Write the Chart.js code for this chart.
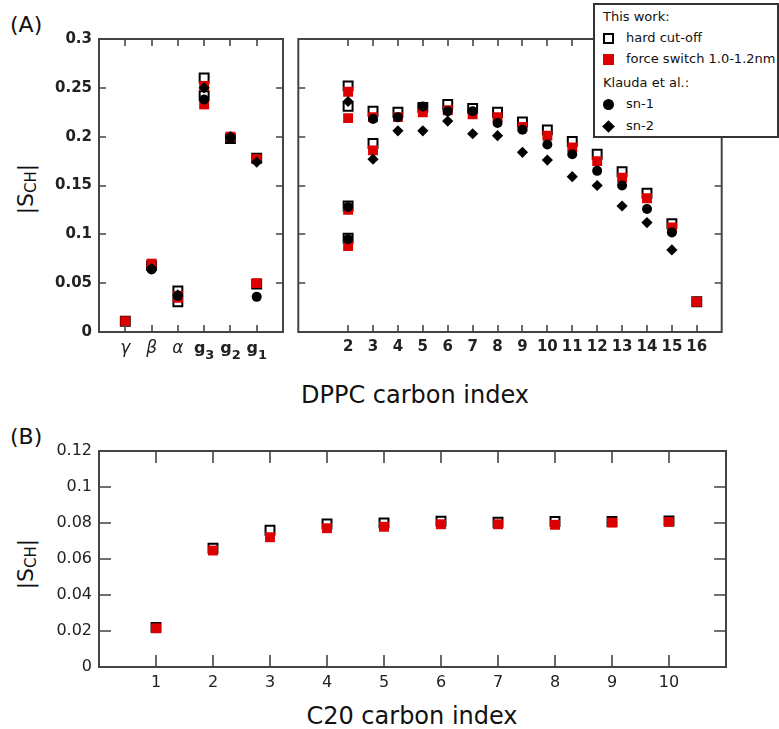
<!DOCTYPE html>
<html>
<head>
<meta charset="utf-8">
<script src="https://cdn.jsdelivr.net/npm/chart.js@4.4.1/dist/chart.umd.min.js"></script>
<style>
  html, body { margin: 0; padding: 0; background: #fff; }
  body { width: 779px; height: 729px; position: relative; overflow: hidden; font-family: 'DejaVu Sans', sans-serif; color: #111; }
  .box { position: absolute; }
  .txt { position: absolute; white-space: nowrap; line-height: 1; }
  .ylab { position: absolute; white-space: nowrap; line-height: 1; font-size: 22px; transform: translate(-50%, -50%) rotate(-90deg); }
  .ylab sub { font-size: 15px; vertical-align: -3px; }
  #legend { position: absolute; left: 593px; top: 3px; width: 186px; height: 135px; box-sizing: border-box;
            border: 2px solid #333; background: #fff; font-size: 13px; }
  #legend .row { position: absolute; height: 20px; line-height: 20px; white-space: nowrap; }
  #legend .mk { position: absolute; box-sizing: border-box; }
</style>
</head>
<body>
<div class="txt" style="left:10px;top:14px;font-size:22px">(A)</div>
<div class="txt" style="left:10px;top:426px;font-size:22px">(B)</div>
<div class="ylab" style="left:27px;top:189px">|S<sub>CH</sub>|</div>
<div class="ylab" style="left:27px;top:564px">|S<sub>CH</sub>|</div>
<div class="txt" style="left:415px;top:383px;font-size:24px;transform:translateX(-50%)">DPPC carbon index</div>
<div class="txt" style="left:412px;top:704px;font-size:24px;transform:translateX(-50%)">C20 carbon index</div>

<div class="box" style="left:0;top:0;width:295px;height:370px"><canvas id="headChart"></canvas></div>
<div class="box" style="left:290px;top:0;width:440px;height:370px"><canvas id="chainChart"></canvas></div>
<div class="box" style="left:0;top:400px;width:779px;height:310px"><canvas id="c20Chart"></canvas></div>
<div id="legend"></div>

<script>
// ---- data (A, head group) ----
const headLabels = ['γ', 'β', 'α', 'g₃', 'g₂', 'g₁'];
const headPositions = [1, 2, 3, 4, 5, 6];
const headHardCut = [[0.011], [0.068], [0.042, 0.031], [0.260, 0.242], [0.198], [0.178, 0.049]];
const headForceSwitch = [[0.011], [0.070], [0.037, 0.035], [0.252, 0.233], [0.200], [0.177, 0.050]];
const headSn1 = [[], [0.064], [0.037], [0.238], [0.199], [0.036]];
const headSn2 = [[], [0.065], [0.038], [0.250], [0.200], [0.174]];

// ---- data (A, acyl chain) ----
const chainCarbons = [2, 3, 4, 5, 6, 7, 8, 9, 10, 11, 12, 13, 14, 15, 16];
const chainHardCut = [[0.252, 0.231, 0.129, 0.096], [0.226, 0.193], [0.225], [0.230], [0.233], [0.229],
  [0.225], [0.215], [0.207], [0.195], [0.182], [0.164], [0.142], [0.111], [0.031]];
const chainForceSwitch = [[0.246, 0.219, 0.125, 0.088], [0.220, 0.186], [0.220], [0.225], [0.227], [0.223],
  [0.220], [0.210], [0.201], [0.189], [0.175], [0.158], [0.137], [0.107], [0.031]];
const chainSn1 = [[0.128, 0.095], [0.218], [0.220], [0.231], [0.226], [0.226],
  [0.214], [0.207], [0.192], [0.182], [0.165], [0.150], [0.126], [0.102], []];
const chainSn2 = [[0.236], [0.177], [0.206], [0.206], [0.216], [0.203],
  [0.201], [0.184], [0.176], [0.159], [0.150], [0.129], [0.112], [0.084], []];
const yTicksA = [0, 0.05, 0.1, 0.15, 0.2, 0.25, 0.3];

// ---- data (B, C20) ----
const c20Carbons = [1, 2, 3, 4, 5, 6, 7, 8, 9, 10];
const c20HardCut = [0.022, 0.066, 0.076, 0.0795, 0.080, 0.081, 0.0804, 0.0808, 0.0808, 0.0812];
const c20ForceSwitch = [0.0215, 0.0647, 0.0721, 0.0771, 0.0779, 0.0793, 0.0793, 0.079, 0.0802, 0.0806];
const yTicksB = [0, 0.02, 0.04, 0.06, 0.08, 0.1, 0.12];

const RED = '#dd0000';
const FONT = "'DejaVu Sans', sans-serif";
const BOLD_FONT = { family: FONT, size: 15, weight: 'bold' };

const seriesStyles = {
  hard:  { label: 'hard cut-off', pointStyle: 'rect', pointRadius: 6.3, backgroundColor: 'rgba(255,255,255,0)', borderColor: '#000', borderWidth: 2, order: 4 },
  force: { label: 'force switch 1.0-1.2nm', pointStyle: 'rect', pointRadius: 7, backgroundColor: RED, borderColor: RED, borderWidth: 0, order: 3 },
  sn1:   { label: 'sn-1', pointStyle: 'circle', pointRadius: 5, backgroundColor: '#000', borderColor: '#000', borderWidth: 0, order: 2 },
  sn2:   { label: 'sn-2', pointStyle: 'rectRot', pointRadius: 5.6, backgroundColor: '#000', borderColor: '#000', borderWidth: 0, order: 1 }
};

function buildPoints(positions, groups) {
  return groups.flatMap((vals, i) => [].concat(vals).map(v => ({ x: positions[i], y: v })));
}

function makeDatasets(positions, series) {
  return Object.keys(series).map(key => Object.assign({}, seriesStyles[key], {
    data: buildPoints(positions, series[key]),
    pointHoverRadius: seriesStyles[key].pointRadius
  }));
}

// box frame with inward ticks on all four sides
const framePlugin = {
  id: 'frame',
  afterDraw(chart, args, opts) {
    const { ctx, chartArea: a } = chart;
    const xs = chart.scales.x, ys = chart.scales.y;
    ctx.save();
    ctx.strokeStyle = '#444';
    ctx.lineWidth = 1.6;
    ctx.beginPath();
    opts.xTicks.forEach(v => {
      if (v <= xs.min || v >= xs.max) return;
      const px = Math.round(xs.getPixelForValue(v));
      ctx.moveTo(px, a.bottom); ctx.lineTo(px, a.bottom - opts.len);
      ctx.moveTo(px, a.top); ctx.lineTo(px, a.top + opts.len);
    });
    opts.yTicks.forEach(v => {
      if (v <= ys.min || v >= ys.max) return;
      const py = Math.round(ys.getPixelForValue(v));
      ctx.moveTo(a.left, py); ctx.lineTo(a.left + opts.len, py);
      ctx.moveTo(a.right, py); ctx.lineTo(a.right - opts.len, py);
    });
    ctx.stroke();
    ctx.lineWidth = 2;
    ctx.strokeRect(a.left, a.top, a.right - a.left, a.bottom - a.top);
    ctx.restore();
  }
};

// head-group category labels: italic greek, bold g with a large subscript
const SUB_DIGITS = { '₁': '1', '₂': '2', '₃': '3' };
const headLabelPlugin = {
  id: 'headLabels',
  afterDraw(chart) {
    const { ctx, chartArea: a } = chart;
    const xs = chart.scales.x;
    ctx.save();
    ctx.fillStyle = '#222';
    ctx.textBaseline = 'alphabetic';
    headLabels.forEach((lab, i) => {
      const px = xs.getPixelForValue(headPositions[i]);
      const base = lab[0];
      const sub = SUB_DIGITS[lab.slice(1)];
      const y = a.bottom + 21;
      if (!sub) {
        ctx.font = 'italic 17px ' + FONT;
        ctx.textAlign = 'center';
        ctx.fillText(base, px, y);
        return;
      }
      ctx.font = 'bold 16px ' + FONT;
      const wb = ctx.measureText(base).width;
      ctx.font = 'bold 13px ' + FONT;
      const ws = ctx.measureText(sub).width;
      const left = px - (wb + ws) / 2;
      ctx.textAlign = 'left';
      ctx.font = 'bold 16px ' + FONT;
      ctx.fillText(base, left, y);
      ctx.font = 'bold 13px ' + FONT;
      ctx.fillText(sub, left + wb, y + 6);
    });
    ctx.restore();
  }
};

function fmt(v) { return String(+v.toFixed(2)); }

function makeChart(id, cfg) {
  return new Chart(document.getElementById(id), {
    type: 'scatter',
    data: { datasets: cfg.datasets },
    plugins: [framePlugin].concat(cfg.extraPlugins || []),
    options: {
      responsive: true,
      maintainAspectRatio: false,
      animation: false,
      events: [],
      layout: { padding: cfg.padding },
      plugins: {
        legend: { display: false },
        tooltip: { enabled: false },
        frame: { len: cfg.tickLen, xTicks: cfg.xTicks, yTicks: cfg.yTicks }
      },
      scales: {
        x: {
          type: 'linear', min: cfg.xMin, max: cfg.xMax,
          grid: { display: false, drawTicks: false },
          border: { display: false },
          afterBuildTicks: s => { s.ticks = cfg.xTicks.map(v => ({ value: v })); },
          afterFit: s => { s.height = 30; },
          ticks: { autoSkip: false, maxRotation: 0, padding: cfg.xPad, color: '#222',
                   font: cfg.xFont, callback: cfg.xLabel }
        },
        y: {
          display: true, min: 0, max: cfg.yTicks[cfg.yTicks.length - 1],
          grid: { display: false, drawTicks: false },
          border: { display: false },
          afterBuildTicks: s => { s.ticks = cfg.yTicks.map(v => ({ value: v })); },
          afterFit: s => { s.width = cfg.yWidth; },
          ticks: { display: cfg.yWidth > 0, padding: 7, color: '#222', font: cfg.yFont, callback: fmt }
        }
      }
    }
  });
}

makeChart('headChart', {
  datasets: makeDatasets(headPositions, { hard: headHardCut, force: headForceSwitch, sn1: headSn1, sn2: headSn2 }),
  padding: { top: 39, right: 12, bottom: 8, left: 0 },
  xMin: 0, xMax: 7, xTicks: headPositions, yTicks: yTicksA, tickLen: 7, xPad: 6, yWidth: 99,
  xFont: BOLD_FONT, yFont: BOLD_FONT,
  xLabel: () => '',
  extraPlugins: [headLabelPlugin]
});

makeChart('chainChart', {
  datasets: makeDatasets(chainCarbons, { hard: chainHardCut, force: chainForceSwitch, sn1: chainSn1, sn2: chainSn2 }),
  padding: { top: 39, right: 6, bottom: 8, left: 7 },
  xMin: 0, xMax: 17, xTicks: chainCarbons, yTicks: yTicksA, tickLen: 7, xPad: 6, yWidth: 0,
  xFont: BOLD_FONT, yFont: BOLD_FONT,
  xLabel: v => String(v)
});

makeChart('c20Chart', {
  datasets: makeDatasets(c20Carbons, { hard: c20HardCut, force: c20ForceSwitch }),
  padding: { top: 51, right: 53, bottom: 13, left: 0 },
  xMin: 0, xMax: 11, xTicks: c20Carbons, yTicks: yTicksB, tickLen: 12, xPad: 6, yWidth: 99,
  xFont: { family: FONT, size: 16 }, yFont: { family: FONT, size: 16 },
  xLabel: v => String(v)
});

// ---- legend ----
const legendRows = [
  { title: 'This work:', cy: 12 },
  { key: 'hard', cy: 33 },
  { key: 'force', cy: 54 },
  { title: 'Klauda et al.:', cy: 78 },
  { key: 'sn1', cy: 99 },
  { key: 'sn2', cy: 121 }
];
const markerCss = {
  hard: 'width:11px;height:11px;border:2px solid #000;background:#fff;',
  force: 'width:11px;height:11px;background:' + RED + ';',
  sn1: 'width:11px;height:11px;border-radius:50%;background:#000;',
  sn2: 'width:9px;height:9px;background:#000;transform:rotate(45deg);'
};
const legend = document.getElementById('legend');
legendRows.forEach(r => {
  const row = document.createElement('div');
  row.className = 'row';
  row.style.top = (r.cy - 10) + 'px';
  if (r.title) {
    row.style.left = '8px';
    row.textContent = r.title;
  } else {
    row.style.left = '31px';
    row.textContent = seriesStyles[r.key].label;
    const mk = document.createElement('div');
    mk.className = 'mk';
    const size = r.key === 'sn2' ? 9 : 11;
    mk.style.cssText = markerCss[r.key] + 'left:' + (13 - size / 2) + 'px;top:' + (r.cy - size / 2) + 'px;';
    legend.appendChild(mk);
  }
  legend.appendChild(row);
});
</script>
</body>
</html>
